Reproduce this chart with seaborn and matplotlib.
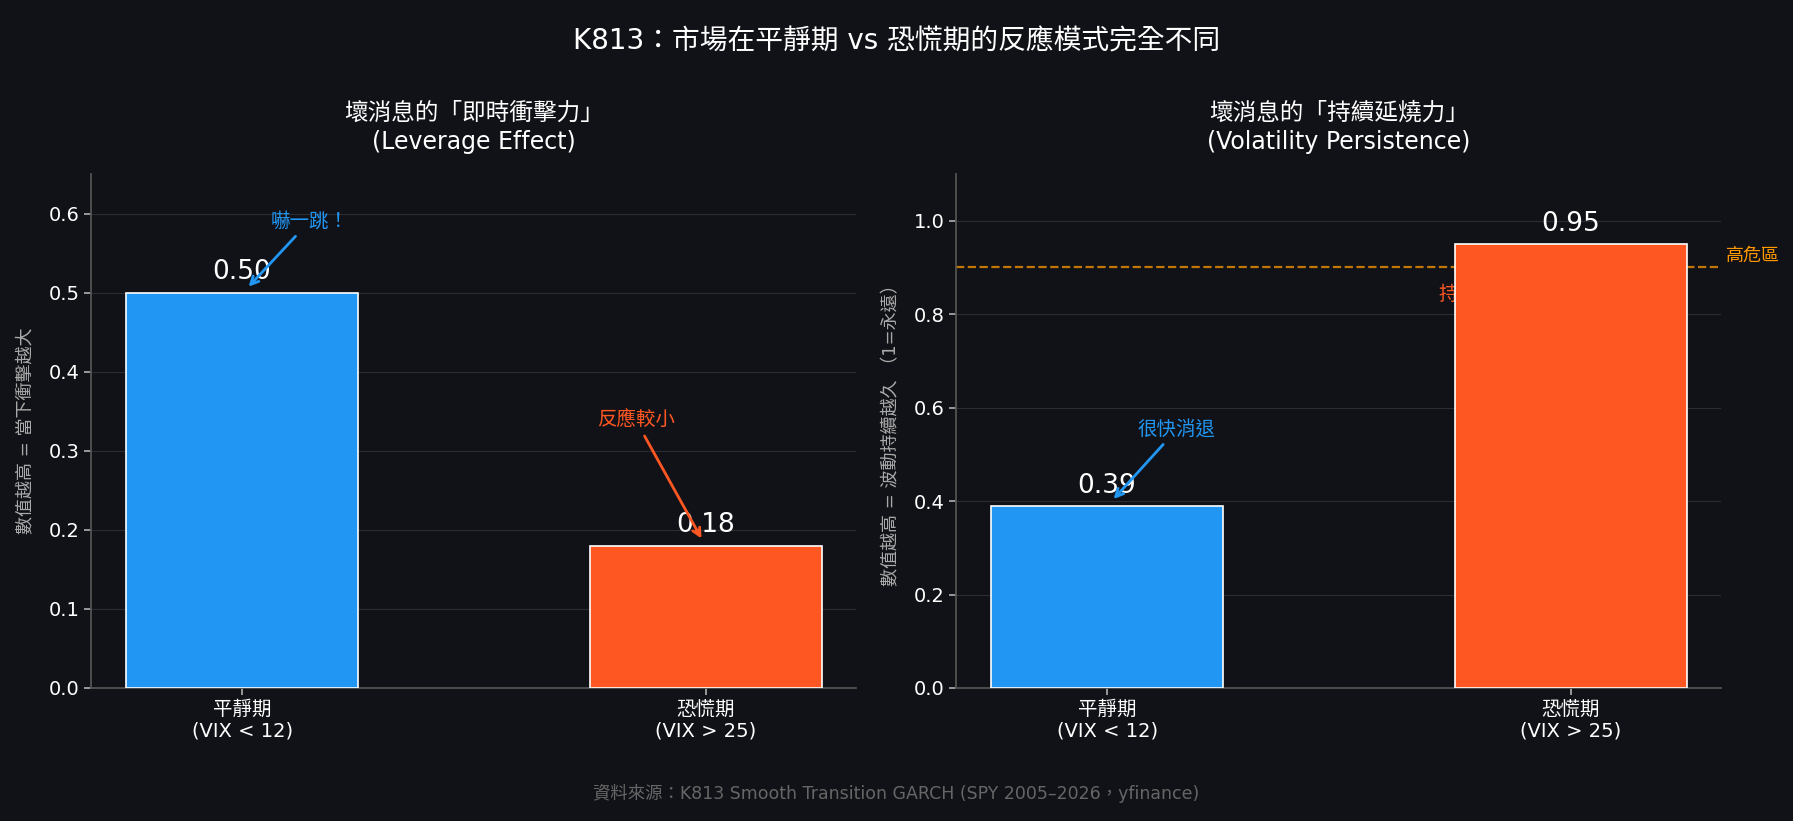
import matplotlib
matplotlib.use("Agg")
import matplotlib.pyplot as plt
import seaborn as sns
import pandas as pd

# ---- data ----
REGIMES = ["平靜期\n(VIX < 12)", "恐慌期\n(VIX > 25)"]
LEVERAGE = [0.50, 0.18]
PERSIST = [0.39, 0.95]
DANGER_LEVEL = 0.9

BG = "#111217"
BLUE = "#2196F3"
ORANGE = "#FF5722"
AMBER = "#FF9800"
COLORS = [BLUE, ORANGE]

sns.set_theme(style="dark")
plt.rcParams["font.family"] = ["DejaVu Sans", "Noto Sans CJK TC"]
plt.rcParams.update({
    "figure.facecolor": BG,
    "axes.facecolor": BG,
    "axes.edgecolor": "#555555",
    "axes.labelcolor": "#aaaaaa",
    "text.color": "white",
    "xtick.color": "white",
    "ytick.color": "white",
    "axes.grid": True,
    "grid.color": "#2c2d33",
})

fig, axes = plt.subplots(1, 2, figsize=(17.93, 8.21), dpi=100)
fig.subplots_adjust(left=0.051, right=0.96, bottom=0.162, top=0.788, wspace=0.131)


def draw(ax, vals, ylim, title, ylabel):
    df = pd.DataFrame({"regime": REGIMES, "value": vals})
    sns.barplot(data=df, x="regime", y="value", hue="regime", palette=COLORS,
                width=0.5, edgecolor="white", linewidth=1.2, legend=False,
                ax=ax, zorder=3, saturation=1)
    ax.set_xlim(-0.325, 1.325)
    ax.set_ylim(*ylim)
    ax.set_xlabel("")
    ax.set_ylabel(ylabel, fontsize=13, color="#aaaaaa", labelpad=10)
    ax.set_title(title, fontsize=17, color="white", pad=18, linespacing=1.3)
    ax.grid(True, axis="y", color="#2c2d33", linewidth=0.8, zorder=0)
    ax.grid(False, axis="x")
    ax.tick_params(axis="both", labelsize=14, length=5, color="#aaaaaa",
                   left=True, bottom=True)
    for s in ["top", "right"]:
        ax.spines[s].set_visible(False)
    for s in ["left", "bottom"]:
        ax.spines[s].set_color("#555555")
    for i, v in enumerate(vals):
        ax.text(i, v + ylim[1] * 0.014, f"{v:.2f}", ha="center", va="bottom",
                fontsize=19, color="white", zorder=5)


ax1, ax2 = axes
draw(ax1, LEVERAGE, (0, 0.65), "壞消息的「即時衝擊力」\n(Leverage Effect)",
     "數值越高 = 當下衝擊越大")
draw(ax2, PERSIST, (0, 1.1), "壞消息的「持續延燒力」\n(Volatility Persistence)",
     "數值越高 = 波動持續越久 （1=永遠）")

ax1.annotate("嚇一跳！", xy=(0.01, 0.505), xytext=(0.145, 0.59),
             ha="center", va="center", fontsize=14, color=BLUE, zorder=6,
             arrowprops=dict(arrowstyle="->", color=BLUE, lw=2))
ax1.annotate("反應較小", xy=(0.994, 0.186), xytext=(0.85, 0.338),
             ha="center", va="center", fontsize=14, color=ORANGE, zorder=6,
             arrowprops=dict(arrowstyle="->", color=ORANGE, lw=2))
ax2.annotate("很快消退", xy=(0.01, 0.40), xytext=(0.15, 0.553),
             ha="center", va="center", fontsize=14, color=BLUE, zorder=6,
             arrowprops=dict(arrowstyle="->", color=BLUE, lw=2))

ax2.axhline(DANGER_LEVEL, color=AMBER, linestyle="--", linewidth=1.6,
            alpha=0.75, zorder=2)
ax2.text(1.335, DANGER_LEVEL + 0.005, "高危區", ha="left", va="bottom",
         fontsize=13, color=AMBER, clip_on=False)
ax2.text(0.715, 0.843, "持續燒很久", ha="left", va="center",
         fontsize=14, color=ORANGE, zorder=1)

fig.suptitle("K813：市場在平靜期 vs 恐慌期的反應模式完全不同",
             fontsize=20, color="white", y=0.967)
fig.text(0.5, 0.033, "資料來源：K813 Smooth Transition GARCH (SPY 2005–2026，yfinance)",
         ha="center", va="center", fontsize=12.5, color="#666666")

fig.savefig("out.png", dpi=100, facecolor=BG)
